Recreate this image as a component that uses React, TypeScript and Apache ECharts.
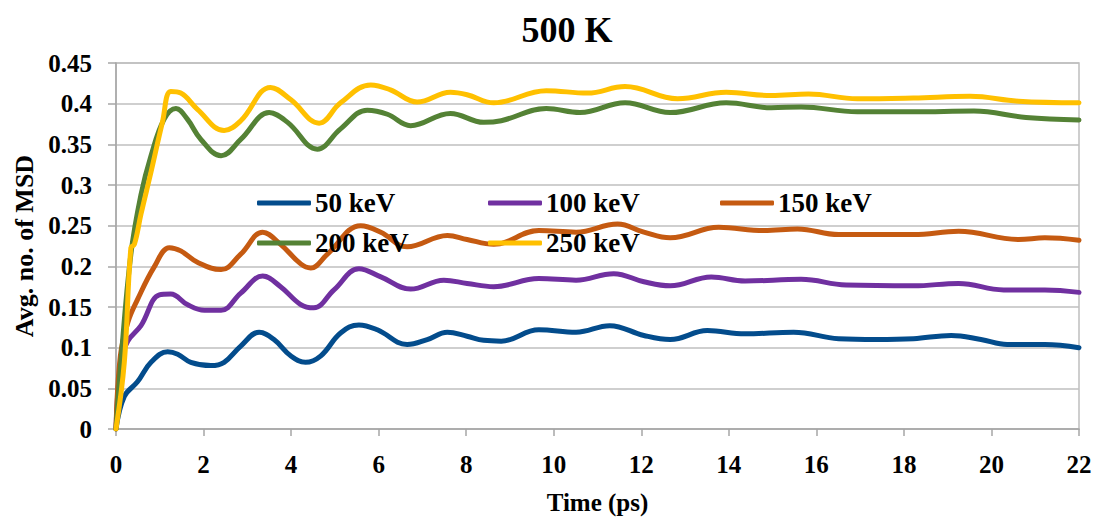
import React, { useEffect, useRef } from "react";
import * as echarts from "echarts";

const TITLE = "500 K";
const X_NAME = "Time (ps)";
const Y_NAME = "Avg. no. of MSD";
const SERIES_NAMES = ["50 keV", "100 keV", "150 keV", "200 keV", "250 keV"];
const COLORS = ["#034C8C", "#7030A0", "#C55A11", "#548235", "#FFC000"];

const kev50: [number, number][] = [
  [0, 0], [0.19, 0.04], [0.49, 0.058], [0.8, 0.082], [1.18, 0.095], [1.41, 0.092], [1.71, 0.082],
  [2.17, 0.078], [2.47, 0.082], [2.85, 0.102], [3.27, 0.119], [3.61, 0.11], [3.99, 0.09],
  [4.33, 0.082], [4.68, 0.09], [5.13, 0.118], [5.55, 0.128], [5.97, 0.122], [6.65, 0.104],
  [7.11, 0.11], [7.57, 0.119], [8.02, 0.114], [8.4, 0.109], [8.8, 0.108], [9.66, 0.122],
  [10.51, 0.119], [11.28, 0.127], [12.06, 0.115], [12.66, 0.11], [13.51, 0.121], [14.37, 0.117],
  [15.48, 0.119], [16.51, 0.111], [17.37, 0.11], [18.22, 0.111], [19.08, 0.115], [19.76, 0.11],
  [20.36, 0.104], [21.22, 0.104], [22, 0.1],
];

const kev100: [number, number][] = [
  [0, 0], [0.11, 0.082], [0.27, 0.108], [0.57, 0.127], [0.99, 0.165], [1.25, 0.166], [1.63, 0.153],
  [2.02, 0.146], [2.4, 0.146], [2.85, 0.167], [3.35, 0.188], [3.76, 0.175], [4.22, 0.153],
  [4.52, 0.149], [4.98, 0.171], [5.55, 0.197], [6.05, 0.187], [6.73, 0.172], [7.49, 0.183],
  [8.02, 0.179], [8.63, 0.175], [9.66, 0.185], [10.51, 0.183], [11.37, 0.191], [12.06, 0.181],
  [12.66, 0.176], [13.6, 0.187], [14.37, 0.182], [15.65, 0.184], [16.68, 0.177], [18.22, 0.176],
  [19.25, 0.179], [20.28, 0.171], [21.22, 0.171], [22, 0.168],
];

const kev150: [number, number][] = [
  [0, 0], [0.1, 0.09], [0.27, 0.131], [0.49, 0.159], [0.87, 0.199], [1.22, 0.223], [1.48, 0.219],
  [1.86, 0.205], [2.4, 0.196], [2.85, 0.215], [3.35, 0.242], [3.76, 0.227], [4.22, 0.203],
  [4.45, 0.198], [4.83, 0.215], [5.59, 0.25], [6.05, 0.242], [6.65, 0.224], [7.57, 0.238],
  [8.02, 0.233], [8.63, 0.227], [9.66, 0.244], [10.51, 0.242], [11.46, 0.252], [12.06, 0.242],
  [12.66, 0.235], [13.77, 0.248], [14.8, 0.244], [15.57, 0.246], [16.51, 0.239], [18.22, 0.239],
  [19.25, 0.243], [20.62, 0.233], [21.22, 0.235], [22, 0.232],
];

const kev200: [number, number][] = [
  [0, 0], [0.11, 0.082], [0.34, 0.215], [0.57, 0.288], [0.8, 0.336], [1.1, 0.381], [1.37, 0.394],
  [1.63, 0.381], [1.94, 0.356], [2.4, 0.336], [2.85, 0.356], [3.5, 0.389], [3.92, 0.377],
  [4.6, 0.344], [5.13, 0.369], [5.74, 0.392], [6.2, 0.387], [6.73, 0.373], [7.64, 0.388],
  [8.4, 0.377], [8.8, 0.379], [9.83, 0.394], [10.6, 0.389], [11.63, 0.401], [12.66, 0.389],
  [13.94, 0.401], [14.97, 0.395], [15.65, 0.396], [16.94, 0.39], [18.22, 0.39], [19.6, 0.391],
  [20.79, 0.383], [22, 0.38],
];

const kev250: [number, number][] = [
  [0, 0], [0.19, 0.082], [0.34, 0.223], [0.42, 0.227], [0.57, 0.264], [0.8, 0.316], [1.06, 0.377],
  [1.25, 0.415], [1.48, 0.413], [1.86, 0.393], [2.47, 0.367], [2.85, 0.379], [3.53, 0.42],
  [3.99, 0.405], [4.64, 0.376], [5.13, 0.401], [5.82, 0.423], [6.27, 0.417], [6.88, 0.402],
  [7.64, 0.414], [8.02, 0.411], [8.63, 0.401], [9.83, 0.416], [10.77, 0.413], [11.63, 0.421],
  [12.83, 0.406], [13.94, 0.414], [14.97, 0.41], [15.82, 0.412], [16.94, 0.406], [18.22, 0.407],
  [19.51, 0.409], [20.62, 0.403], [22, 0.401],
];

const SERIES_DATA = [kev50, kev100, kev150, kev200, kev250];

const FONT = "'Liberation Serif', 'Times New Roman', serif";
// legend item anchor positions [left, top]
const LEGEND_POS: [number, number][] = [
  [257, 188], [488, 188], [720, 188], [257, 228], [488, 228],
];

export default function App() {
  const ref = useRef<HTMLDivElement>(null);
  useEffect(() => {
    document.body.style.margin = "0";
    const chart = echarts.init(ref.current!, null, { renderer: "svg" });
    chart.setOption({
      animation: false,
      backgroundColor: "#fff",
      textStyle: { fontFamily: FONT },
      title: {
        text: TITLE,
        left: 562,
        textAlign: "center",
        top: 7,
        textStyle: { fontFamily: FONT, fontWeight: "bold", fontSize: 36, color: "#000" },
      },
      legend: SERIES_NAMES.map((name, i) => ({
        data: [name],
        left: LEGEND_POS[i][0],
        top: LEGEND_POS[i][1],
        icon: "roundRect",
        itemWidth: 54,
        itemHeight: 5,
        itemGap: 0,
        padding: 0,
        textStyle: {
          fontFamily: FONT,
          fontWeight: "bold",
          fontSize: 27,
          lineHeight: 30,
          color: "#000",
          padding: [0, 0, 0, -1],
        },
      })),
      grid: {
        left: 116,
        right: 17,
        top: 63,
        bottom: 87,
        show: true,
        borderColor: "#BFBFBF",
        borderWidth: 1.5,
      },
      xAxis: {
        type: "value",
        min: 0,
        max: 22,
        interval: 2,
        name: X_NAME,
        nameLocation: "middle",
        nameGap: 61,
        nameTextStyle: { fontFamily: FONT, fontWeight: "bold", fontSize: 25, color: "#000" },
        axisLine: { show: true, lineStyle: { color: "#A6A6A6", width: 1.5 } },
        axisTick: { show: true, length: 7, lineStyle: { color: "#A6A6A6", width: 1.5 } },
        splitLine: { show: false },
        axisLabel: {
          fontFamily: FONT,
          fontWeight: "bold",
          fontSize: 25,
          color: "#000",
          margin: 23,
        },
      },
      yAxis: {
        type: "value",
        min: 0,
        max: 0.45,
        interval: 0.05,
        name: Y_NAME,
        nameLocation: "middle",
        nameGap: 73,
        nameTextStyle: { fontFamily: FONT, fontWeight: "bold", fontSize: 26, color: "#000" },
        axisLine: { show: true, lineStyle: { color: "#A6A6A6", width: 1.5 } },
        axisTick: { show: true, length: 8, lineStyle: { color: "#A6A6A6", width: 1.5 } },
        splitLine: { show: true, lineStyle: { color: "#BFBFBF", width: 1.5 } },
        axisLabel: {
          fontFamily: FONT,
          fontWeight: "bold",
          fontSize: 25,
          color: "#000",
          margin: 24,
          formatter: (v: number) => String(parseFloat(v.toFixed(2))),
        },
      },
      series: SERIES_NAMES.map((name, i) => ({
        name,
        type: "line",
        data: SERIES_DATA[i],
        smooth: 0.4,
        symbol: "none",
        color: COLORS[i],
        lineStyle: { width: 5, color: COLORS[i], cap: "round", join: "round" },
      })),
    });
    return () => chart.dispose();
  }, []);
  return <div ref={ref} style={{ width: 1096, height: 520 }} />;
}
